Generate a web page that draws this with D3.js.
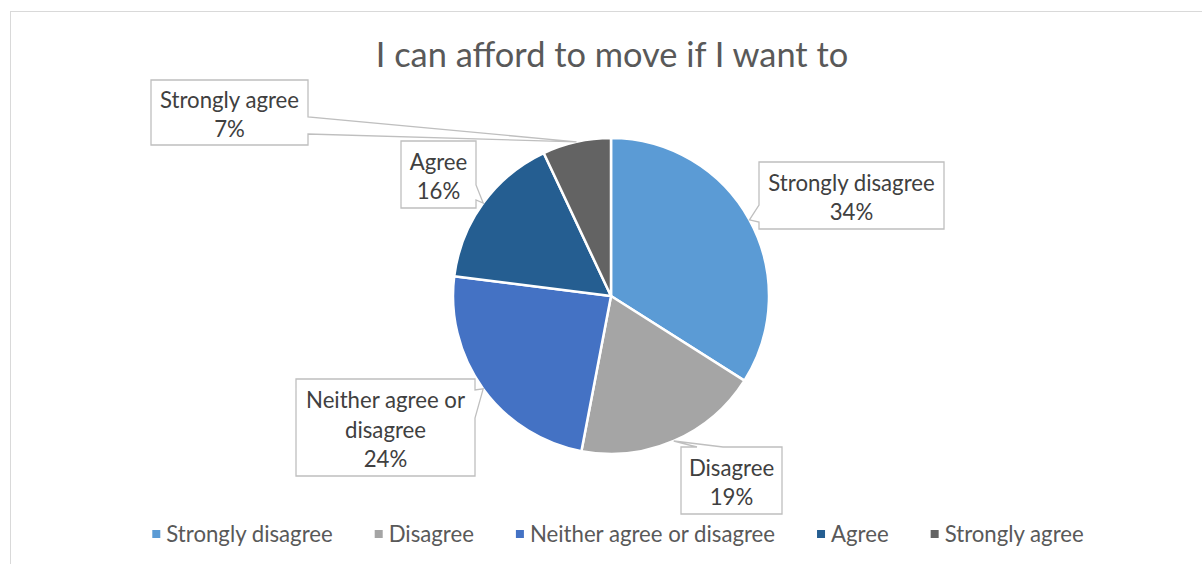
<!DOCTYPE html>
<html>
<head>
<meta charset="utf-8">
<script src="https://cdn.jsdelivr.net/npm/d3@7"></script>
<style>
  html, body { margin: 0; padding: 0; background: #ffffff; }
  svg { display: block; }
</style>
</head>
<body>
<svg id="chart" width="1202" height="564"></svg>
<script>
// Survey responses to "I can afford to move if I want to"
const chartTitle = "I can afford to move if I want to";
const categories = ["Strongly disagree", "Disagree", "Neither agree or disagree", "Agree", "Strongly agree"];
const values = [34, 19, 24, 16, 7];
const percentLabels = ["34%", "19%", "24%", "16%", "7%"];
const labelLines = [["Strongly disagree"], ["Disagree"], ["Neither agree or", "disagree"], ["Agree"], ["Strongly agree"]];
const sliceColors = ["#5B9BD5", "#A5A5A5", "#4472C4", "#255E91", "#636363"];

// Callout box placement (box rect, side the pointer leaves from, pointer base along that side)
const callouts = [
  { x: 759, y: 162, w: 185, h: 67, side: "left",   a: 205, b: 222 },
  { x: 681, y: 447, w: 101, h: 67, side: "top",    a: 697, b: 723 },
  { x: 296, y: 379, w: 179, h: 97, side: "right",  a: 390, b: 418 },
  { x: 401, y: 141, w: 75,  h: 67, side: "right",  a: 185, b: 200 },
  { x: 151, y: 80,  w: 157, h: 65, side: "right",  a: 117, b: 134 }
];

const W = 1202, H = 564;
const FONT = "Lato, 'Open Sans', sans-serif";
const svg = d3.select("#chart");

// Chart area frame
svg.append("rect")
  .attr("x", 10.5).attr("y", 11.5)
  .attr("width", W + 20).attr("height", H + 20)
  .attr("fill", "#ffffff")
  .attr("stroke", "#D9D9D9").attr("stroke-width", 1);

// Title
svg.append("text")
  .attr("x", 612).attr("y", 67)
  .attr("text-anchor", "middle")
  .attr("font-family", FONT)
  .attr("font-size", 34.4)
  .attr("fill", "#595959")
  .text(chartTitle);

// Pie
const cx = 611, cy = 296, r = 158;
const data = categories.map((c, i) => ({ cat: c, value: values[i], i }));
const pie = d3.pie().value(d => d.value).sort(null);
const arcs = pie(data);
const arc = d3.arc().innerRadius(0).outerRadius(r);

const g = svg.append("g").attr("transform", `translate(${cx},${cy})`);
g.selectAll("path.slice")
  .data(arcs)
  .join("path")
  .attr("class", "slice")
  .attr("d", arc)
  .attr("fill", d => sliceColors[d.data.i])
  .attr("stroke", "#ffffff")
  .attr("stroke-width", 2.5)
  .attr("stroke-linejoin", "round");

// Callout path: rectangle with a pointer wedge reaching the slice edge
function calloutPath(c, tip) {
  const x0 = c.x, y0 = c.y, x1 = c.x + c.w, y1 = c.y + c.h;
  const p = d3.path();
  const [tx, ty] = tip;
  p.moveTo(x0, y0);
  if (c.side === "top") { p.lineTo(c.a, y0); p.lineTo(tx, ty); p.lineTo(c.b, y0); }
  p.lineTo(x1, y0);
  if (c.side === "right") { p.lineTo(x1, c.a); p.lineTo(tx, ty); p.lineTo(x1, c.b); }
  p.lineTo(x1, y1);
  p.lineTo(x0, y1);
  if (c.side === "left") { p.lineTo(x0, c.b); p.lineTo(tx, ty); p.lineTo(x0, c.a); }
  p.closePath();
  return p.toString();
}

const labelG = svg.append("g");
arcs.forEach((d, i) => {
  const c = callouts[i];
  const mid = (d.startAngle + d.endAngle) / 2;
  const tip = [cx + r * Math.sin(mid), cy - r * Math.cos(mid)];
  labelG.append("path")
    .attr("d", calloutPath(c, tip))
    .attr("fill", "#ffffff")
    .attr("stroke", "#BFBFBF")
    .attr("stroke-width", 1.3)
    .attr("stroke-linejoin", "miter");
  const lines = labelLines[i].concat([percentLabels[i]]);
  const lh = 29.5;
  const midY = c.y + c.h / 2;
  const firstBaseline = midY - (lines.length - 1) * lh / 2 + 10;
  const t = labelG.append("text")
    .attr("text-anchor", "middle")
    .attr("font-family", FONT)
    .attr("font-size", 22.2)
    .attr("fill", "#404040");
  lines.forEach((ln, k) => {
    t.append("tspan")
      .attr("x", c.x + c.w / 2)
      .attr("y", firstBaseline + k * lh)
      .text(ln);
  });
});

// Legend
const legendY = 534;
const legendG = svg.append("g");
const items = legendG.selectAll("g.item")
  .data(categories)
  .join("g")
  .attr("class", "item");
items.append("rect")
  .attr("width", 8).attr("height", 8)
  .attr("y", legendY - 4)
  .attr("fill", (d, i) => sliceColors[i]);
items.append("text")
  .attr("y", legendY + 8)
  .attr("font-family", FONT)
  .attr("font-size", 22.2)
  .attr("fill", "#595959")
  .text(d => d);

// lay the legend items out in a centred row
const gapSwatch = 6, gapItem = 42;
const widths = [];
items.each(function () {
  widths.push(8 + gapSwatch + d3.select(this).select("text").node().getComputedTextLength());
});
const total = d3.sum(widths) + gapItem * (widths.length - 1);
let lx = 618 - total / 2;
items.each(function (d, i) {
  const sel = d3.select(this);
  sel.select("rect").attr("x", lx);
  sel.select("text").attr("x", lx + 8 + gapSwatch);
  lx += widths[i] + gapItem;
});
</script>
</body>
</html>
